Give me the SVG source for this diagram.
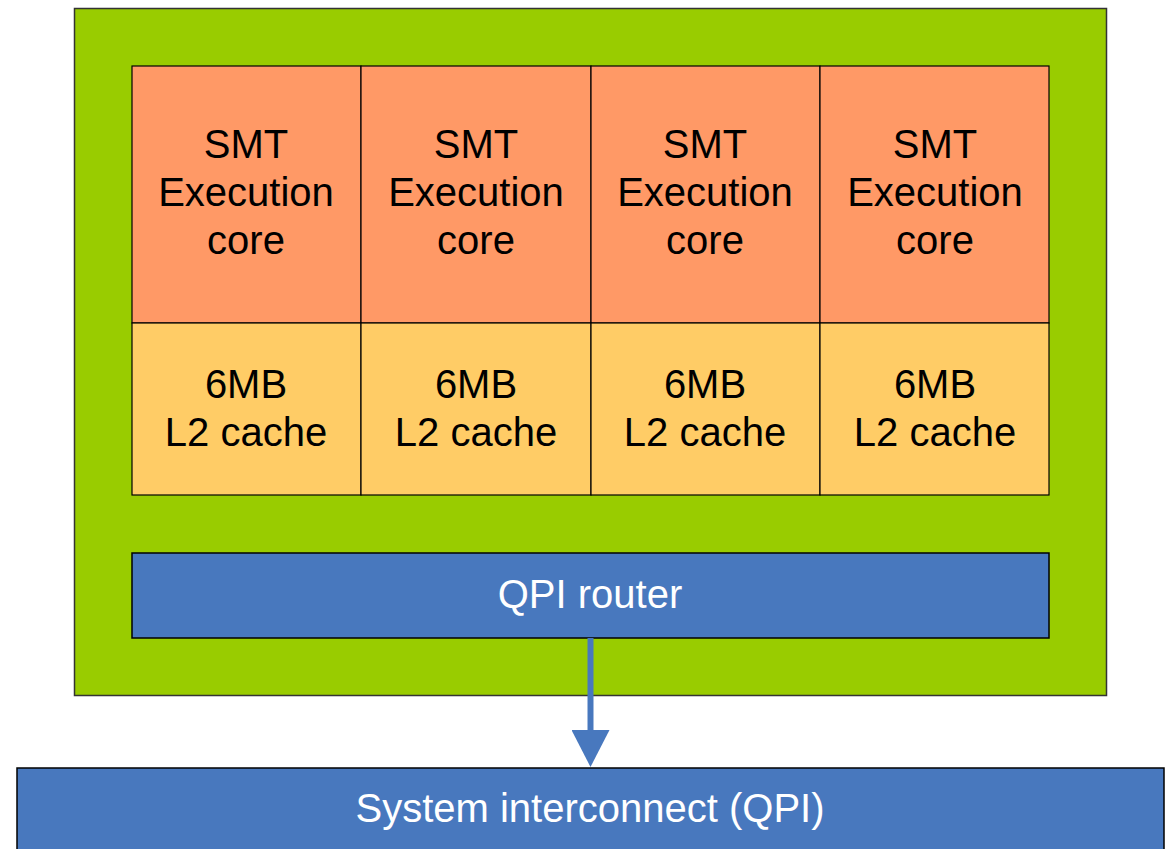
<svg xmlns="http://www.w3.org/2000/svg" width="1167" height="849" viewBox="0 0 1167 849">
<style>
text{font-family:"Liberation Sans",Arial,sans-serif;font-size:40px;text-anchor:middle;fill:#000}
.w{fill:#fff}
.core{fill:#FF9966;stroke:#000;stroke-width:1.2}
.cache{fill:#FFCC66;stroke:#000;stroke-width:1.2}
.blue{fill:#4878BE;stroke:#000;stroke-width:1.5}
</style>
<defs>
<marker id="ah" markerUnits="userSpaceOnUse" markerWidth="38" markerHeight="38" refX="1" refY="19" orient="auto" viewBox="0 0 38 38">
<path d="M0,0 L37,19 L0,38 Z" fill="#4878BE"/>
</marker>
</defs>
<rect width="1167" height="849" fill="#fff"/>
<g id="chip"><rect x="74.5" y="8.5" width="1032" height="687" fill="#99CC00" stroke="#333" stroke-width="1.5"/></g>
<g id="core1"><rect class="core" x="132" y="66" width="229" height="257"/><text x="246" y="158">SMT</text><text x="246" y="206">Execution</text><text x="246" y="254">core</text></g>
<g id="core2"><rect class="core" x="361" y="66" width="230" height="257"/><text x="476" y="158">SMT</text><text x="476" y="206">Execution</text><text x="476" y="254">core</text></g>
<g id="core3"><rect class="core" x="591" y="66" width="229" height="257"/><text x="705" y="158">SMT</text><text x="705" y="206">Execution</text><text x="705" y="254">core</text></g>
<g id="core4"><rect class="core" x="820" y="66" width="229" height="257"/><text x="935" y="158">SMT</text><text x="935" y="206">Execution</text><text x="935" y="254">core</text></g>
<g id="cache1"><rect class="cache" x="132" y="323" width="229" height="172"/><text x="246" y="398">6MB</text><text x="246" y="446">L2 cache</text></g>
<g id="cache2"><rect class="cache" x="361" y="323" width="230" height="172"/><text x="476" y="398">6MB</text><text x="476" y="446">L2 cache</text></g>
<g id="cache3"><rect class="cache" x="591" y="323" width="229" height="172"/><text x="705" y="398">6MB</text><text x="705" y="446">L2 cache</text></g>
<g id="cache4"><rect class="cache" x="820" y="323" width="229" height="172"/><text x="935" y="398">6MB</text><text x="935" y="446">L2 cache</text></g>
<g id="router"><rect class="blue" x="132" y="553" width="917" height="85"/><text class="w" x="590" y="608">QPI router</text></g>
<g id="interconnect"><rect class="blue" x="17" y="768" width="1147" height="90"/><text class="w" x="590" y="822">System interconnect (QPI)</text></g>
<g id="connectors"><line x1="590.5" y1="638" x2="590.5" y2="731" stroke="#4878BE" stroke-width="6" marker-end="url(#ah)"/></g>
</svg>
